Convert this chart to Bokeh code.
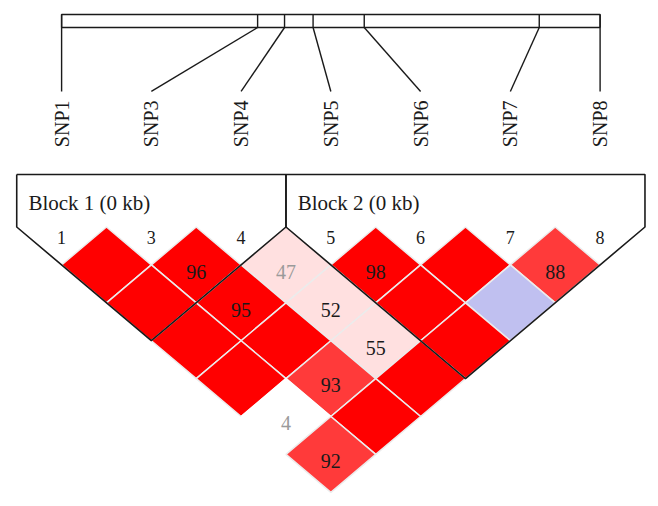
import math
from bokeh.plotting import figure
from bokeh.models import Range1d
from bokeh.core.properties import value
from bokeh.embed import file_html
from bokeh.resources import INLINE

# ---------------- data ----------------
snp_names = ["SNP1", "SNP3", "SNP4", "SNP5", "SNP6", "SNP7", "SNP8"]
snp_ids = ["1", "3", "4", "5", "6", "7", "8"]
# relative physical position of each SNP along the region bar (0..1)
map_frac = [0.0, 0.364, 0.414, 0.467, 0.562, 0.887, 1.0]

pair_a = [0, 1, 2, 3, 4, 5, 0, 1, 2, 3, 4, 0, 1, 2, 3, 0, 1, 2, 0, 1, 0]
pair_b = [1, 2, 3, 4, 5, 6, 2, 3, 4, 5, 6, 3, 4, 5, 6, 4, 5, 6, 5, 6, 6]
dprime = [100, 96, 47, 98, 100, 88, 100, 95, 52, 100, 100,
          100, 100, 55, 100, 100, 93, 100, 4, 100, 92]
ld_class = ["r", "r", "p", "r", "r", "m", "r", "r", "p", "r", "b",
            "r", "r", "p", "r", "r", "m", "r", "w", "r", "m"]

block_start = [0, 3]
block_end = [2, 6]
block_labels = ["Block 1 (0 kb)", "Block 2 (0 kb)"]

# ---------------- styles ----------------
class_color = {"r": "#ff0000", "m": "#ff3a3a", "p": "#ffe0e0",
               "b": "#c0c0f0", "w": "#ffffff"}
FONT = value("Liberation Serif")
INK = "#1a1a1a"

W, H = 658, 506
p = figure(width=W, height=H, output_backend="svg", toolbar_location=None,
           x_range=Range1d(-0.6808, 6.6507), y_range=Range1d(-3.687, 2.988),
           min_border=0, background_fill_color="white",
           border_fill_color="white")
p.axis.visible = False
p.grid.visible = False
p.outline_line_color = None

n = len(snp_names)
span = n - 1

# ---------------- top region bar ----------------
bar_bot, bar_top = 2.632, 2.803
p.quad(left=[0], right=[span], bottom=[bar_bot], top=[bar_top],
       fill_color="white", line_color=INK, line_width=1.4)
tick_x = [f * span for f in map_frac]
p.segment(x0=tick_x, y0=[bar_bot] * n, x1=tick_x, y1=[bar_top] * n,
          line_color=INK, line_width=1.4)
# connectors from physical position to label slot
p.segment(x0=tick_x, y0=[bar_bot] * n, x1=list(range(n)), y1=[1.788] * n,
          line_color=INK, line_width=1.4)
p.text(x=list(range(n)), y=[1.669] * n, text=snp_names, angle=math.pi / 2,
       text_align="right", text_baseline="middle", text_font=FONT,
       text_font_size="20px", text_color=INK)

# ---------------- LD diamonds ----------------
xs, ys, fills, edges = [], [], [], []
tx, ty, tt, tc = [], [], [], []
for a, b, d, c in zip(pair_a, pair_b, dprime, ld_class):
    cx = (a + b) / 2.0
    cy = -(b - a) / 2.0
    xs.append([cx - 0.5, cx, cx + 0.5, cx])
    ys.append([cy, cy + 0.5, cy, cy - 0.5])
    fills.append(class_color[c])
    edges.append("#ffffff" if c == "w" else "#ececec")
    if d < 100:
        tx.append(cx)
        ty.append(cy - 0.09)
        tt.append(str(d))
        tc.append("#9a9a9a" if d < 50 else INK)

p.patches(xs=xs, ys=ys, fill_color=fills, line_color=edges, line_width=1.5)
p.text(x=tx, y=ty, text=tt, text_color=tc, text_align="center",
       text_baseline="alphabetic", text_font=FONT, text_font_size="20px")

# column numbers
p.text(x=list(range(n)), y=[-0.139] * n, text=snp_ids, text_align="center",
       text_baseline="alphabetic", text_font=FONT, text_font_size="18px",
       text_color=INK)

# ---------------- block outlines ----------------
top_y = 0.693
bx, by = [], []
lx, ly = [], []
for s, e in zip(block_start, block_end):
    bx.append([s - 0.5, s - 0.5, (s + e) / 2.0, e + 0.5, e + 0.5, s - 0.5])
    by.append([top_y, 0.0, -0.5 - (e - s) / 2.0, 0.0, top_y, top_y])
    lx.append(s - 0.5 + 0.13)
    ly.append(0.323)
p.multi_line(xs=bx, ys=by, line_color=INK, line_width=1.6)
p.text(x=lx, y=ly, text=block_labels, text_align="left",
       text_baseline="alphabetic", text_font=FONT, text_font_size="21px",
       text_color=INK)

open("out.html", "w").write(file_html(p, INLINE))
